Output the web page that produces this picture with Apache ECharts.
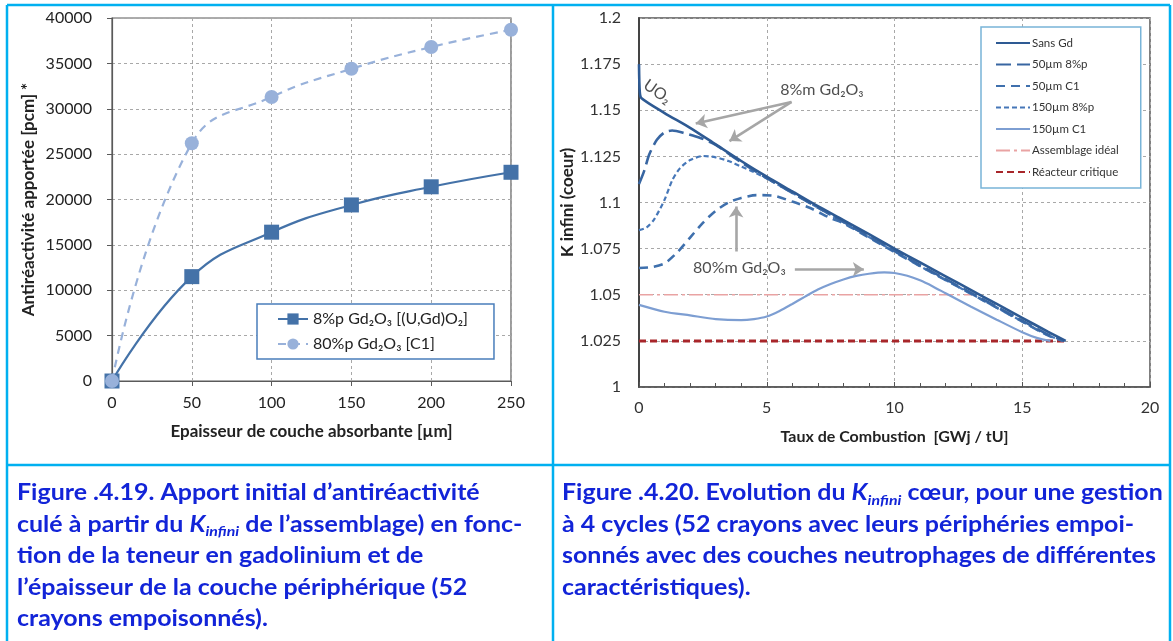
<!DOCTYPE html>
<html><head><meta charset="utf-8">
<script src="https://cdn.jsdelivr.net/npm/echarts@6/dist/echarts.min.js"></script>
<style>html,body{margin:0;padding:0;background:#fff}#c{width:1173px;height:641px}</style>
</head><body><div id="c"></div><script>
// ---------- Left chart data ----------
const thickness = [0, 50, 100, 150, 200, 250];
const antiReact8p = [0, 11500, 16400, 19400, 21400, 23000];
const antiReact80p = [0, 26200, 31300, 34400, 36800, 38700];
const leftNames = ['8%p Gd₂O₃ [(U,Gd)O₂]', '80%p Gd₂O₃ [C1]'];

// ---------- Right chart data ([burnup, K]) ----------
const sansGd = [[0,1.175],[0.03,1.160],[0.1,1.1565],[1,1.1485],[2,1.1405],[3,1.1315],[4,1.1225],[5,1.114],[6,1.106],[7,1.098],[8,1.0905],[9,1.0828],[10,1.075],[11,1.0675],[12,1.06],[13,1.0525],[14,1.045],[15,1.0375],[16,1.03],[16.7,1.025]];
const um50p8 = [[0,1.110],[0.2,1.117],[0.4,1.126],[0.7,1.134],[1.0,1.138],[1.3,1.139],[1.8,1.1375],[2.4,1.135],[3,1.1312],[4,1.1218],[5,1.1132],[6,1.1052],[7,1.0972],[8,1.0895],[9,1.0815],[10,1.0738],[11,1.066],[12,1.0585],[13,1.051],[14,1.0435],[15,1.036],[16,1.0285],[16.65,1.025]];
const um50C1 = [[0,1.0645],[0.5,1.065],[1,1.067],[1.5,1.073],[2,1.081],[2.5,1.089],[3,1.0955],[3.5,1.1],[4,1.1025],[4.6,1.104],[5.2,1.1038],[6,1.1005],[6.7,1.097],[7.5,1.0915],[8,1.0888],[9,1.081],[10,1.0732],[11,1.0655],[12,1.058],[13,1.0505],[14,1.043],[15,1.0355],[16,1.028],[16.6,1.025]];
const um150p8 = [[0,1.085],[0.3,1.0865],[0.6,1.091],[1,1.1015],[1.3,1.112],[1.6,1.1185],[2,1.123],[2.5,1.1252],[3,1.1245],[3.5,1.1225],[4,1.1195],[4.5,1.1165],[5,1.113],[6,1.1052],[7,1.0972],[8,1.0893],[9,1.0813],[10,1.0735],[11,1.0655],[12,1.058],[13,1.0505],[14,1.043],[15,1.0355],[16,1.028],[16.6,1.025]];
const um150C1 = [[0,1.0445],[1,1.0408],[2,1.0388],[3,1.0368],[4,1.0362],[4.5,1.0368],[5,1.0382],[5.5,1.0412],[6,1.045],[6.5,1.049],[7,1.0528],[7.5,1.0558],[8,1.0583],[8.5,1.0602],[9,1.0614],[9.6,1.0621],[10,1.0618],[10.5,1.0603],[11,1.0578],[11.5,1.0545],[12,1.0508],[13,1.0435],[14,1.0365],[15,1.0297],[15.6,1.0265],[16.1,1.025]];
const idealAssembly = [[0,1.05],[13.1,1.05]];
const criticalReactor = [[0,1.025],[16.7,1.025]];
const rightNames = ['Sans Gd','50µm 8%p','50µm C1','150µm 8%p','150µm C1','Assemblage idéal','Réacteur critique'];

// annotation arrows (data units) and labels
const arrowCoords = [
  [[5.97,1.1545],[2.22,1.1428]],
  [[5.97,1.1545],[3.54,1.1333]],
  [[3.80,1.0734],[3.80,1.0978]],
  [[6.10,1.0638],[8.80,1.0638]]
];
const annotations = [
  {pos:[7.16,1.1608], text:'8%m Gd₂O₃', rot:0},
  {pos:[3.93,1.0644], text:'80%m Gd₂O₃', rot:0},
  {pos:[0.72,1.1600], text:'UO₂', rot:-35}
];

const FONT = 'Lato, "Noto Sans", sans-serif';
const chart = echarts.init(document.getElementById('c'), null, {renderer:'canvas'});

const gridLine = {show:true, lineStyle:{color:'#a8a8a8', type:[3,3], width:1}};

const capFill = '#1224d8';
const CAPFS = 22, CAPSX = 1.135;
const capBase = {fontFamily:FONT, fontWeight:'bold', fontSize:CAPFS, fill:capFill};
const capRich = {
  b:{fontFamily:FONT, fontWeight:'bold', fontSize:CAPFS, fill:capFill, color:capFill},
  k:{fontFamily:FONT, fontWeight:'bold', fontStyle:'italic', fontSize:CAPFS, fill:capFill, color:capFill},
  s:{fontFamily:FONT, fontWeight:'bold', fontStyle:'italic', fontSize:14, fill:capFill, color:capFill, verticalAlign:'bottom', lineHeight:28}
};
const leftCaption = [
  '{b|Figure .4.19. Apport initial d’antiréactivité}',
  '{b|culé à partir du }{k|K}{s|infini}{b| de l’assemblage) en fonc-}',
  '{b|tion de la teneur en gadolinium et de}',
  '{b|l’épaisseur de la couche périphérique (52}',
  '{b|crayons empoisonnés).}'
];
const rightCaption = [
  '{b|Figure .4.20. Evolution du }{k|K}{s|infini}{b| cœur, pour une gestion}',
  '{b|à 4 cycles (52 crayons avec leurs périphéries empoi-}',
  '{b|sonnés avec des couches neutrophages de différentes}',
  '{b|caractéristiques).}'
];
const capY0 = 493, capDY = 31.6;
const graphics = [];
const cyan = '#00b0f0';
[[7,5,1170,5],[7,465,1170,465],[7,5,7,641],[553,5,553,641],[1170,5,1170,641]].forEach(l=>{
  graphics.push({type:'line', shape:{x1:l[0],y1:l[1],x2:l[2],y2:l[3]}, style:{stroke:cyan, lineWidth:2.5}, silent:true});
});
leftCaption.forEach((t,i)=>graphics.push({type:'text', x:17, y:capY0+i*capDY, scaleX:CAPSX, style:{text:t, rich:capRich, ...capBase, verticalAlign:'middle', align:'left'}}));
rightCaption.forEach((t,i)=>graphics.push({type:'text', x:562, y:capY0+i*capDY, scaleX:CAPSX, style:{text:t, rich:capRich, ...capBase, verticalAlign:'middle', align:'left'}}));

const rightStyles = [
  {color:'#2e5a93', type:'solid', width:2.6},
  {color:'#3866a2', type:[15,6], width:2.6},
  {color:'#3f70ad', type:[9,6], width:2.6},
  {color:'#4677b8', type:[5,3], width:2.2},
  {color:'#7d9ed2', type:'solid', width:2.2},
  {color:'#e9a3a3', type:[14,4,3,4], width:1.6},
  {color:'#a8262a', type:[7,4], width:3}
];
const rightData = [sansGd, um50p8, um50C1, um150p8, um150C1, idealAssembly, criticalReactor];

const rightSeries = rightData.map((d,i)=>({
  name: rightNames[i], type:'line', xAxisIndex:1, yAxisIndex:1,
  data: d, showSymbol:false, symbol:'circle',
  smooth: i<5 ? 0.25 : false,
  lineStyle:{color:rightStyles[i].color, type:rightStyles[i].type, width:rightStyles[i].width},
  itemStyle:{color:rightStyles[i].color},
  z: i===6 ? 3 : (i===5 ? 2 : 4 + (4-i)),
  silent:true
}));

const option = {
  animation:false,
  backgroundColor:'#fff',
  textStyle:{fontFamily:FONT},
  grid:[
    {left:112, top:18, width:399, height:363, show:true, borderColor:'#5a5a5a', borderWidth:1.2, backgroundColor:'transparent'},
    {left:639, top:18, width:511, height:369, show:true, borderColor:'#555', borderWidth:1.5, backgroundColor:'transparent'}
  ],
  xAxis:[
    {gridIndex:0, type:'value', min:0, max:250, interval:50,
     axisLine:{show:true, lineStyle:{color:'#5a5a5a', width:1.2}},
     axisTick:{show:true, length:5, lineStyle:{color:'#5a5a5a'}},
     axisLabel:{fontFamily:FONT, fontSize:16, color:'#222', margin:14},
     splitLine:gridLine,
     name:'Epaisseur de couche absorbante [µm]', nameLocation:'middle', nameGap:42,
     nameTextStyle:{fontFamily:FONT, fontWeight:'bold', fontSize:17, color:'#222'}},
    {gridIndex:1, type:'value', min:0, max:20, interval:5,
     axisLine:{show:true, lineStyle:{color:'#555', width:1.5}},
     axisTick:{show:true, inside:true, length:5, lineStyle:{color:'#555'}},
     minorTick:{show:true, splitNumber:5, length:4, lineStyle:{color:'#555'}},
     axisLabel:{fontFamily:FONT, fontSize:16, color:'#333', margin:13},
     splitLine:gridLine,
     name:'Taux de Combustion  [GWj / tU]', nameLocation:'middle', nameGap:42,
     nameTextStyle:{fontFamily:FONT, fontWeight:'bold', fontSize:16, color:'#222'}}
  ],
  yAxis:[
    {gridIndex:0, type:'value', min:0, max:40000, interval:5000,
     axisLine:{show:true, lineStyle:{color:'#5a5a5a', width:1.2}},
     axisTick:{show:true, length:5, lineStyle:{color:'#5a5a5a'}},
     axisLabel:{fontFamily:FONT, fontSize:16, color:'#222', margin:20, formatter:v=>String(v)},
     splitLine:gridLine,
     name:'Antiréactivité apportée [pcm] *', nameLocation:'middle', nameGap:75,
     nameTextStyle:{fontFamily:FONT, fontWeight:'bold', fontSize:17, color:'#222'}},
    {gridIndex:1, type:'value', min:1, max:1.2, interval:0.025,
     axisLine:{show:true, lineStyle:{color:'#444', width:2}}, axisTick:{show:false},
     axisLabel:{fontFamily:FONT, fontSize:16, color:'#333', margin:18, formatter:v=>String(+v.toFixed(3))},
     splitLine:gridLine,
     name:'K infini (coeur)', nameLocation:'middle', nameGap:62,
     nameTextStyle:{fontFamily:FONT, fontWeight:'bold', fontSize:17, color:'#222'}}
  ],
  legend:[
    {data:leftNames, orient:'vertical', left:257, top:304,
     backgroundColor:'#fff', borderColor:'#4a7ebb', borderWidth:1.5, borderRadius:0,
     padding:[7,26,7,20], itemWidth:30, itemHeight:14, itemGap:9,
     textStyle:{fontFamily:FONT, fontSize:16, color:'#222'}, selectedMode:false},
    {data:rightNames, orient:'vertical', left:981, top:27,
     backgroundColor:'#fff', borderColor:'#78b4d8', borderWidth:1.5, borderRadius:0,
     padding:[10,22,10,14], itemWidth:34, itemHeight:11, itemGap:9.5,
     itemStyle:{opacity:0},
     textStyle:{fontFamily:FONT, fontSize:11.5, color:'#333', padding:[0,0,0,-3]}, selectedMode:false}
  ],
  series:[
    {name:leftNames[0], type:'line', xAxisIndex:0, yAxisIndex:0,
     data: thickness.map((x,i)=>[x, antiReact8p[i]]), smooth:0.45,
     symbol:'rect', symbolSize:15, itemStyle:{color:'#4472a8'}, lineStyle:{color:'#4472a8', width:2.2}, z:3},
    {name:leftNames[1], type:'line', xAxisIndex:0, yAxisIndex:0,
     data: thickness.map((x,i)=>[x, antiReact80p[i]]), smooth:0.45,
     symbol:'circle', symbolSize:14, itemStyle:{color:'#98b1da'}, lineStyle:{color:'#98b1da', width:2.2, type:[8,6]}, z:4},
    ...rightSeries,
    {type:'lines', coordinateSystem:'cartesian2d', xAxisIndex:1, yAxisIndex:1, polyline:false,
     data: arrowCoords.map(c=>({coords:c})), symbol:['none','arrow'], symbolSize:[0,11],
     lineStyle:{color:'#a6a6a6', width:2.6, opacity:1}, z:8, silent:true},
    {type:'scatter', xAxisIndex:1, yAxisIndex:1, symbolSize:0, z:9, silent:true,
     data: annotations.map(a=>({value:a.pos, label:{show:true, position:'inside', formatter:a.text, rotate:a.rot,
       fontFamily:FONT, fontSize:16, color:'#222'}}))}
  ],
  graphic: graphics
};
chart.setOption(option);
</script></body></html>
